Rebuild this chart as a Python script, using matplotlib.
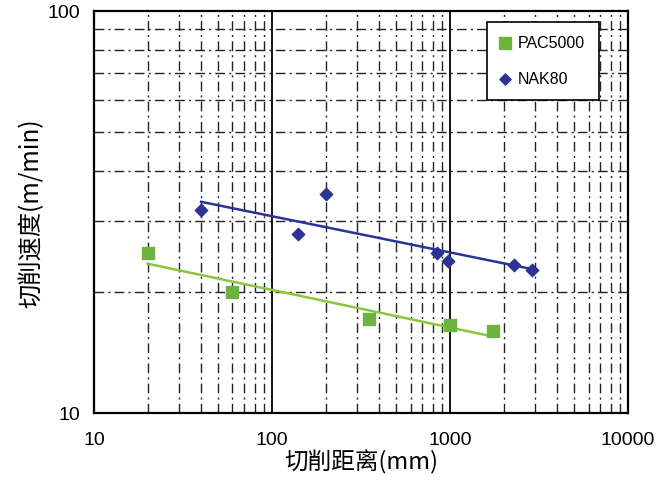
import numpy as np
import matplotlib.pyplot as plt
from matplotlib.ticker import LogLocator, NullFormatter, FixedLocator

plt.rcParams['font.family'] = ['Liberation Sans', 'Noto Sans CJK SC', 'DejaVu Sans']

# data
pac_x = [20, 60, 350, 1000, 1750]
pac_y = [25.0, 20.0, 17.1, 16.6, 16.0]
nak_x = [40, 140, 200, 850, 970, 2300, 2900]
nak_y = [31.9, 27.9, 35.0, 25.0, 23.9, 23.4, 22.7]

x_ticks = [10, 100, 1000, 10000]
y_ticks = [10, 100]

green_pt = '#6cb33f'
green_ln = '#8cc63f'
blue = '#2b3492'

fig = plt.figure(figsize=(6.59, 4.89), dpi=100)
ax = fig.add_axes([0.1426, 0.1534, 0.8104, 0.8221])
ax.set_xscale('log')
ax.set_yscale('log')
ax.set_xlim(10, 10000)
ax.set_ylim(10, 100)

# dash-dot minor grid, solid major verticals
dashdot = (0, (7, 3, 1.5, 3))
ax.xaxis.set_minor_locator(LogLocator(base=10, subs=np.arange(2, 10)))
ax.yaxis.set_minor_locator(LogLocator(base=10, subs=np.arange(2, 10)))
ax.grid(which='minor', color='#222222', linestyle=dashdot, linewidth=1.0)
for xv in [100, 1000]:
    ax.axvline(xv, color='black', lw=1.3, zorder=1)

# power-law trend lines
def trend(x, y):
    k, b = np.polyfit(np.log10(x), np.log10(y), 1)
    xs = np.array([min(x), max(x)])
    return xs, 10 ** (k * np.log10(xs) + b)

tx, ty = trend(pac_x, pac_y)
ax.plot(tx, ty, color=green_ln, lw=1.8, zorder=3)
tx, ty = trend(nak_x, nak_y)
ax.plot(tx, ty, color=blue, lw=1.8, zorder=3)

ax.scatter(pac_x, pac_y, marker='s', s=80, color=green_pt, zorder=4, label='PAC5000')
ax.scatter(nak_x, nak_y, marker='D', s=40, color=blue, zorder=4, label='NAK80')

ax.xaxis.set_major_locator(FixedLocator(x_ticks))
ax.yaxis.set_major_locator(FixedLocator(y_ticks))
ax.set_xticklabels([str(v) for v in x_ticks])
ax.set_yticklabels([str(v) for v in y_ticks])
ax.xaxis.set_minor_formatter(NullFormatter())
ax.yaxis.set_minor_formatter(NullFormatter())
ax.tick_params(which='both', length=0, labelsize=14)
ax.tick_params(axis='x', pad=13)
ax.tick_params(axis='y', pad=10)

for s in ax.spines.values():
    s.set_color('black')
    s.set_linewidth(1.6)

ax.set_xlabel('切削距离(mm)', family=['Noto Sans CJK SC', 'DejaVu Sans'], fontsize=17, labelpad=1)
ax.set_ylabel('切削速度(m/min)', family=['Noto Sans CJK SC', 'DejaVu Sans'], fontsize=17.5, labelpad=2)

leg = ax.legend(loc='upper left', bbox_to_anchor=(0.736, 0.973), borderaxespad=0,
                fontsize=11.5,
                frameon=True, fancybox=False, framealpha=1, edgecolor='black',
                labelspacing=1.3, handletextpad=0.5, borderpad=0.85,
                handlelength=0.6, markerscale=0.9)
leg.get_frame().set_linewidth(1.2)

fig.savefig('out.png', dpi=100)
